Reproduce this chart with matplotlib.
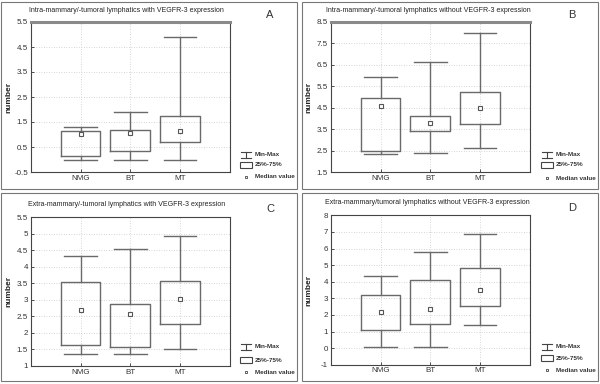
import matplotlib
matplotlib.use("Agg")
import matplotlib.pyplot as plt
from matplotlib.patches import Rectangle
from matplotlib.lines import Line2D
import numpy as np

plt.rcParams['font.family'] = ['Liberation Sans', 'DejaVu Sans']

categories = ["NMG", "BT", "MT"]

titles = [
    "Intra-mammary/-tumoral lymphatics with VEGFR-3 expression",
    "Intra-mammary/-tumoral lymphatics without VEGFR-3 expression",
    "Extra-mammary/-tumoral lymphatics with VEGFR-3 expression",
    "Extra-mammary/tumoral lymphatics without VEGFR-3 expression",
]
letters = ["A", "B", "C", "D"]

# Panel A
a_min = [0.0, 0.0, 0.0]
a_q1 = [0.13, 0.33, 0.72]
a_med = [1.02, 1.08, 1.13]
a_q3 = [1.14, 1.2, 1.76]
a_max = [1.3, 1.9, 4.92]
# Panel B
b_min = [2.36, 2.4, 2.6]
b_q1 = [2.5, 3.4, 3.76]
b_med = [4.57, 3.79, 4.5]
b_q3 = [4.95, 4.1, 5.22]
b_max = [5.95, 6.65, 8.0]
# Panel C
c_min = [1.36, 1.36, 1.51]
c_q1 = [1.62, 1.57, 2.26]
c_med = [2.69, 2.56, 3.02]
c_q3 = [3.53, 2.86, 3.58]
c_max = [4.32, 4.52, 4.92]
# Panel D
d_min = [0.05, 0.05, 1.39]
d_q1 = [1.07, 1.43, 2.51]
d_med = [2.17, 2.35, 3.5]
d_q3 = [3.22, 4.12, 4.84]
d_max = [4.32, 5.81, 6.89]

a_ticks = [-0.5, 0.5, 1.5, 2.5, 3.5, 4.5, 5.5]
a_ticklabels = ["-0.5", "0.5", "1.5", "2.5", "3.5", "4.5", "5.5"]
b_ticks = [1.5, 2.5, 3.5, 4.5, 5.5, 6.5, 7.5, 8.5]
b_ticklabels = ["1.5", "2.5", "3.5", "4.5", "5.5", "6.5", "7.5", "8.5"]
c_ticks = [1, 1.5, 2, 2.5, 3, 3.5, 4, 4.5, 5, 5.5]
c_ticklabels = ["1", "1.5", "2", "2.5", "3", "3.5", "4", "4.5", "5", "5.5"]
d_ticks = [-1, 0, 1, 2, 3, 4, 5, 6, 7, 8]
d_ticklabels = ["-1", "0", "1", "2", "3", "4", "5", "6", "7", "8"]

legend_labels = ["Min-Max", "25%-75%", "Median value"]

panels = [
    (a_min, a_q1, a_med, a_q3, a_max, a_ticks, a_ticklabels),
    (b_min, b_q1, b_med, b_q3, b_max, b_ticks, b_ticklabels),
    (c_min, c_q1, c_med, c_q3, c_max, c_ticks, c_ticklabels),
    (d_min, d_q1, d_med, d_q3, d_max, d_ticks, d_ticklabels),
]

W, H = 600, 384
fig = plt.figure(figsize=(6, 3.84), dpi=100)
fig.patch.set_facecolor("white")

def fx(x):
    return x / W

def fy(y):
    return 1 - y / H

# axes rectangles in pixels (left, top, right, bottom)
ax_px = [
    (30.7, 22, 230, 172),
    (330.7, 22, 530, 172),
    (30.7, 217, 230, 366),
    (330.7, 215.3, 530, 364.7),
]
panel_px = [
    (1, 2, 297, 189),
    (302, 2, 598, 189),
    (1, 193, 297, 381),
    (302, 193, 598, 381),
]
title_px = [(29, 10), (326, 10), (28, 204), (325, 203)]
letter_px = [(270, 15), (572, 15), (270, 209), (572, 208)]
legend_px = [
    (246, 255, [155, 165, 177]),
    (547, 556, [155, 165, 178]),
    (246, 255, [347, 360, 372]),
    (547, 556, [347, 358, 370]),
]

box_col = "#6a6a6a"
for i, (mn, q1, md, q3, mx, ticks, tlabels) in enumerate(panels):
    l, t, r, b = ax_px[i]
    ax = fig.add_axes([fx(l), fy(b), fx(r - l), (b - t) / H])
    pos = np.arange(1, len(categories) + 1)
    stats = []
    for k in range(len(categories)):
        stats.append(dict(whislo=mn[k], q1=q1[k], med=md[k], q3=q3[k], whishi=mx[k]))
    ax.bxp(stats, positions=pos, widths=0.8, capwidths=0.65, showfliers=False,
           boxprops=dict(color=box_col, linewidth=1.0),
           whiskerprops=dict(color=box_col, linewidth=1.0),
           capprops=dict(color=box_col, linewidth=1.0),
           medianprops=dict(linewidth=0))
    ax.plot(pos, md, linestyle="none", marker="s", markersize=2.6,
            markerfacecolor="white", markeredgecolor="#555555", markeredgewidth=0.8, zorder=5)
    ax.set_xlim(0, 4)
    ax.set_ylim(ticks[0], ticks[-1])
    ax.set_yticks(ticks)
    ax.set_yticklabels(tlabels)
    ax.set_xticks(pos)
    ax.set_xticklabels(categories)
    ax.grid(True, linestyle=(0, (1, 2)), color="#c8c8c8", linewidth=0.6)
    ax.set_axisbelow(True)
    ax.tick_params(axis="both", labelsize=5.8, length=2, width=0.6, direction="in",
                   colors="#333333", pad=2)
    for s in ["left", "bottom", "right", "top"]:
        ax.spines[s].set_color("#444444")
        ax.spines[s].set_linewidth(0.8)
    if i < 2:
        ax.spines["top"].set_color("#8a8a8a")
        ax.spines["top"].set_linewidth(2.2)

    # y label
    fig.text(fx(l - 21.5), fy((t + b) / 2), "number", fontsize=6, fontweight="bold",
             rotation=90, ha="center", va="center", color="#222222")

    # panel frame
    pl, pt, pr, pb = panel_px[i]
    fig.patches.append(Rectangle((fx(pl), fy(pb)), fx(pr - pl), (pb - pt) / H,
                                 transform=fig.transFigure, fill=False,
                                 edgecolor="#777777", linewidth=0.8))
    tx, ty = title_px[i]
    fig.text(fx(tx), fy(ty), titles[i], fontsize=5.0, ha="left", va="center", color="#222222")
    lx, ly = letter_px[i]
    fig.text(fx(lx), fy(ly), letters[i], fontsize=8, ha="center", va="center", color="#333333")

    # legend
    ix, txp, rows = legend_px[i]
    y0 = rows[0]
    fig.lines.append(Line2D([fx(ix), fx(ix)], [fy(y0 - 3), fy(y0 + 3)], transform=fig.transFigure,
                            color="#444444", linewidth=0.8))
    for yy in (y0 - 3, y0 + 3):
        fig.lines.append(Line2D([fx(ix - 5), fx(ix + 5)], [fy(yy), fy(yy)], transform=fig.transFigure,
                                color="#444444", linewidth=0.8))
    y1 = rows[1]
    fig.patches.append(Rectangle((fx(ix - 6), fy(y1 + 3)), fx(12), 6 / H, transform=fig.transFigure,
                                 fill=False, edgecolor="#444444", linewidth=0.8))
    y2 = rows[2]
    fig.lines.append(Line2D([fx(ix)], [fy(y2)], transform=fig.transFigure, linestyle="none",
                            marker="s", markersize=1.8, markerfacecolor="white",
                            markeredgecolor="#444444", markeredgewidth=0.6))
    for lab, yy in zip(legend_labels, rows):
        fig.text(fx(txp), fy(yy), lab, fontsize=4.6, fontweight="bold", ha="left", va="center",
                 color="#333333")

fig.savefig("out.png", dpi=100, facecolor="white")
